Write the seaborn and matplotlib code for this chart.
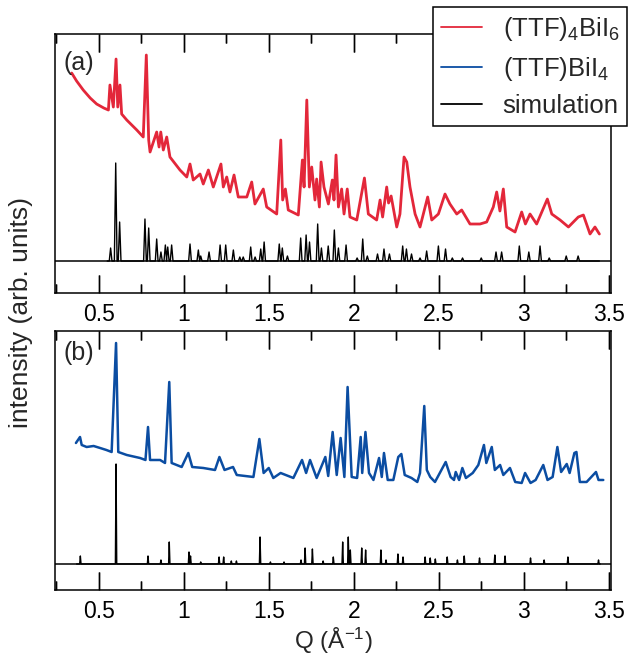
import numpy as np
import pandas as pd
import matplotlib
matplotlib.use("Agg")
import matplotlib.pyplot as plt
from matplotlib.ticker import MultipleLocator
from matplotlib.lines import Line2D
import seaborn as sns

# %%
# measured (TTF)4BiI6 pattern, read off the picture (Q, intensity)
red_q = [0.341, 0.37, 0.409, 0.45, 0.488, 0.53, 0.557, 0.566, 0.586, 0.602, 0.612, 0.625, 0.635,
         0.665, 0.724, 0.762, 0.780, 0.794, 0.802, 0.841, 0.855, 0.865, 0.880, 0.900, 0.919, 0.978,
         1.018, 1.037, 1.056, 1.096, 1.115, 1.145, 1.174, 1.219, 1.233, 1.253, 1.272, 1.296, 1.321,
         1.371, 1.400, 1.419, 1.468, 1.488, 1.547, 1.571, 1.582, 1.598, 1.615, 1.674, 1.698, 1.708,
         1.724, 1.739, 1.753, 1.772, 1.782, 1.798, 1.808, 1.825, 1.851, 1.874, 1.884, 1.896, 1.910,
         1.929, 1.943, 1.962, 1.978, 2.018, 2.063, 2.086, 2.135, 2.155, 2.17, 2.194, 2.205, 2.22,
         2.253, 2.272, 2.296, 2.312, 2.331, 2.361, 2.390, 2.435, 2.459, 2.498, 2.537, 2.566, 2.606,
         2.635, 2.684, 2.743, 2.782, 2.821, 2.841, 2.86, 2.880, 2.900, 2.949, 2.988, 3.01, 3.037,
         3.076, 3.139, 3.165, 3.214, 3.263, 3.321, 3.351, 3.390, 3.419, 3.445]
red_i = [188, 180, 171, 163, 157, 153, 151, 176, 154, 202, 154, 176, 147,
         141, 131, 124, 206, 121, 109, 129, 114, 129, 111, 124, 104, 91,
         84, 97, 81, 87, 77, 91, 74, 97, 74, 84, 69, 86, 64,
         64, 79, 57, 72, 54, 47, 121, 61, 72, 51, 46, 101, 74,
         161, 74, 94, 61, 82, 54, 99, 74, 57, 81, 61, 106, 54,
         72, 47, 72, 44, 41, 83, 47, 41, 61, 44, 74, 58, 65,
         34, 47, 104, 99, 74, 47, 34, 64, 41, 47, 67, 57, 47,
         51, 37, 37, 39, 54, 69, 50, 72, 34, 29, 49, 37, 47,
         37, 62, 47, 41, 34, 44, 46, 27, 34, 27]

# measured (TTF)BiI4 pattern
blue_q = [0.366, 0.39, 0.40, 0.429, 0.47, 0.508, 0.545, 0.576, 0.602, 0.615, 0.665, 0.743, 0.775,
          0.790, 0.802, 0.861, 0.89, 0.915, 0.929, 0.988, 1.027, 1.05, 1.115, 1.184, 1.210, 1.24,
          1.29, 1.312, 1.41, 1.445, 1.47, 1.50, 1.527, 1.57, 1.645, 1.696, 1.72, 1.743, 1.782,
          1.833, 1.85, 1.876, 1.90, 1.923, 1.945, 1.964, 1.988, 2.02, 2.041, 2.05, 2.069, 2.09,
          2.116, 2.149, 2.165, 2.178, 2.20, 2.233, 2.262, 2.28, 2.30, 2.34, 2.374, 2.39, 2.415,
          2.43, 2.45, 2.478, 2.541, 2.57, 2.59, 2.60, 2.62, 2.639, 2.66, 2.70, 2.733, 2.766, 2.78,
          2.812, 2.83, 2.861, 2.88, 2.919, 2.95, 2.988, 3.008, 3.04, 3.07, 3.115, 3.14, 3.17,
          3.198, 3.22, 3.253, 3.27, 3.298, 3.31, 3.33, 3.37, 3.425, 3.44, 3.468]
blue_i = [121, 127, 119, 117, 118, 116, 114, 112, 221, 112, 109, 106, 104,
          137, 104, 104, 101, 182, 101, 97, 111, 97, 96, 94, 107, 94,
          97, 89, 87, 125, 91, 96, 86, 91, 86, 104, 91, 104, 86,
          107, 88, 132, 89, 126, 87, 177, 87, 86, 127, 91, 132, 91,
          84, 106, 87, 111, 84, 84, 107, 110, 89, 86, 82, 91, 158,
          94, 87, 82, 102, 87, 84, 92, 84, 96, 86, 91, 99, 119, 101,
          117, 94, 99, 89, 96, 82, 81, 91, 81, 84, 99, 84, 87,
          117, 92, 100, 91, 111, 112, 82, 82, 92, 84, 84]

# simulated peaks (position, height) for panel (a)
sim_a_q = [0.570, 0.600, 0.623, 0.772, 0.794, 0.841, 0.866, 0.892, 0.906, 0.929, 1.037, 1.086, 1.10,
           1.149, 1.214, 1.247, 1.292, 1.33, 1.35, 1.394, 1.42, 1.453, 1.473, 1.562, 1.58, 1.61,
           1.688, 1.720, 1.74, 1.788, 1.81, 1.85, 1.886, 1.91, 1.955, 2.02, 2.053, 2.08, 2.14,
           2.178, 2.21, 2.288, 2.31, 2.34, 2.39, 2.429, 2.498, 2.54, 2.58, 2.64, 2.75, 2.837,
           2.87, 2.974, 3.03, 3.096, 3.15, 3.25, 3.32]
sim_a_i = [13, 98, 39, 42, 33, 22, 9, 16, 14, 16, 17, 11, 5,
           9, 16, 16, 11, 4, 4, 14, 4, 12, 19, 17, 13, 5,
           23, 26, 19, 37, 13, 15, 31, 13, 16, 3, 22, 5, 7,
           12, 7, 15, 12, 7, 3, 10, 15, 12, 3, 3, 3, 9,
           9, 15, 9, 15, 3, 5, 5]

# simulated peaks for panel (b)
sim_b_q = [0.392, 0.602, 0.79, 0.866, 0.915, 1.031, 1.04, 1.10, 1.208, 1.235, 1.28, 1.31, 1.449,
           1.51, 1.59, 1.69, 1.714, 1.757, 1.82, 1.88, 1.935, 1.968, 1.98, 2.047, 2.07, 2.16,
           2.19, 2.26, 2.29, 2.42, 2.45, 2.48, 2.55, 2.61, 2.65, 2.74, 2.83, 2.89, 3.04, 3.12,
           3.26, 3.44]
sim_b_i = [8, 100, 8, 4, 22, 12, 8, 2, 7, 7, 3, 3, 27,
           2, 2, 4, 16, 15, 3, 7, 22, 27, 14, 16, 14, 14,
           4, 10, 7, 7, 6, 5, 7, 4, 8, 6, 9, 8, 6, 4,
           7, 4]

# %%

def stick_profile(pos, height, half_width, q_start, q_end):
    # narrow triangular peaks on a zero baseline
    xs, ys = [q_start], [0]
    for p, h in zip(pos, height):
        xs += [p - half_width, p, p + half_width]
        ys += [0, h, 0]
    xs.append(q_end)
    ys.append(0)
    return pd.DataFrame({"q": xs, "i": ys})


sns.set_theme(style="ticks")
plt.rcParams["font.family"] = ["Liberation Sans", "DejaVu Sans"]
plt.rcParams["mathtext.fontset"] = "custom"
plt.rcParams["mathtext.rm"] = "Liberation Sans"
plt.rcParams["mathtext.default"] = "regular"
plt.rcParams.update({
    "xtick.direction": "in",
    "xtick.top": True,
    "xtick.bottom": True,
    "xtick.major.size": 13,
    "xtick.minor.size": 6.5,
    "xtick.major.width": 1.0,
    "xtick.minor.width": 1.0,
    "xtick.color": "black",
    "xtick.labelsize": 16.5,
    "xtick.major.pad": 7,
})

red = "#e3273a"
blue = "#0b4da2"

fig = plt.figure(figsize=(6.31, 6.62), dpi=100)
ax_a = fig.add_axes([0.0872, 0.5574, 0.881, 0.3912])
ax_b = fig.add_axes([0.0872, 0.1088, 0.881, 0.3912])

df_red = pd.DataFrame({"q": red_q, "i": red_i})
df_blue = pd.DataFrame({"q": blue_q, "i": blue_i})
sim_a = stick_profile(sim_a_q, sim_a_i, 0.008, 0.55, 3.445)
sim_b = stick_profile(sim_b_q, sim_b_i, 0.004, 0.37, 3.45)

sns.lineplot(df_red, x="q", y="i", ax=ax_a, color=red, lw=2.0, estimator=None, sort=False)
sns.lineplot(sim_a, x="q", y="i", ax=ax_a, color="black", lw=1.0, estimator=None, sort=False)
sns.lineplot(df_blue, x="q", y="i", ax=ax_b, color=blue, lw=1.8, estimator=None, sort=False)
sns.lineplot(sim_b, x="q", y="i", ax=ax_b, color="black", lw=1.0, estimator=None, sort=False)

ax_a.set_ylim(-32, 227)
ax_b.set_ylim(-26, 233)

for ax in (ax_a, ax_b):
    ax.axhline(0, color="black", lw=1.1)
    ax.set_xlim(0.243, 3.513)
    ax.xaxis.set_major_locator(MultipleLocator(0.5))
    ax.xaxis.set_minor_locator(MultipleLocator(0.25))
    ax.xaxis.set_major_formatter(plt.FuncFormatter(lambda v, p: f"{v:g}"))
    ax.set_yticks([])
    for s in ax.spines.values():
        s.set_visible(True)
        s.set_color("black")
        s.set_linewidth(1.1)
    ax.set(xlabel=None, ylabel=None)

    # inward tick marks in data units (1 unit is about 1 px here)
    lo, hi = ax.get_xlim()
    y0, y1 = ax.get_ylim()
    major = [v for v in ax.xaxis.get_majorticklocs() if lo <= v <= hi]
    minor = [v for v in ax.xaxis.get_minorticklocs() if lo <= v <= hi and v not in major]
    for locs, L in ((major, 18), (minor, 9)):
        ax.vlines(locs, y0, y0 + L, colors="black", lw=1.0, zorder=6)
        ax.vlines(locs, y1 - L, y1, colors="black", lw=1.0, zorder=6)
    ax.set_ylim(y0, y1)

ax_a.text(0.016, 0.89, "(a)", transform=ax_a.transAxes, fontsize=18, va="center", ha="left")
ax_b.text(0.016, 0.915, "(b)", transform=ax_b.transAxes, fontsize=18, va="center", ha="left")

ax_b.set_xlabel("Q (Å$^{-1}$)", fontsize=17.5, labelpad=2)
fig.text(0.034, 0.528, "intensity (arb. units)", rotation=90, fontsize=19, va="center", ha="center")

handles = [Line2D([], [], color=red, lw=1.3),
           Line2D([], [], color=blue, lw=1.3),
           Line2D([], [], color="black", lw=1.3)]
labels = ["(TTF)$_4$BiI$_6$", "(TTF)BiI$_4$", "simulation"]
leg = fig.legend(handles, labels, loc="upper right", bbox_to_anchor=(0.994, 0.989),
                 fontsize=18.5, frameon=True, fancybox=False, framealpha=1,
                 edgecolor="black", handlelength=1.6, borderaxespad=0, borderpad=0.3,
                 labelspacing=0.45, handletextpad=0.8)
leg.get_frame().set_linewidth(1.1)

fig.savefig("out.png", dpi=100)
